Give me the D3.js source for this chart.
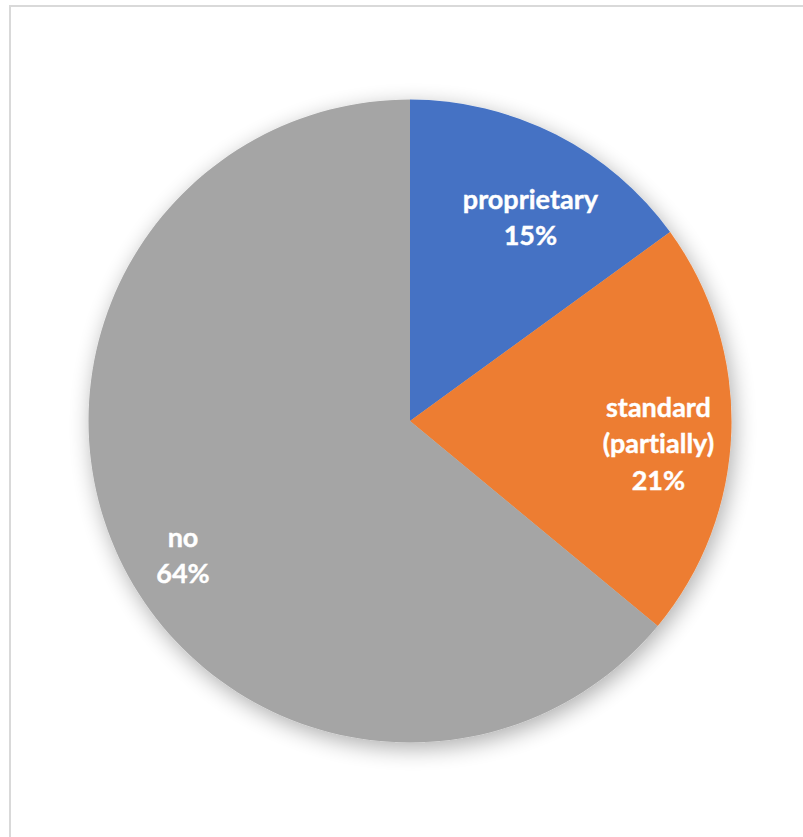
<!DOCTYPE html>
<html>
<head>
<meta charset="utf-8">
<script src="https://cdn.jsdelivr.net/npm/d3@7"></script>
<style>
  html, body { margin: 0; padding: 0; background: #ffffff; }
  svg { display: block; }
  text { font-variant-ligatures: none; font-feature-settings: "liga" 0, "clig" 0; }
</style>
</head>
<body>
<svg id="chart" width="803" height="837"></svg>
<script>
// Share of responses by kind of support
const categories = ["proprietary", "standard (partially)", "no"];
const values = [15, 21, 64];
const labelLines = [["proprietary"], ["standard", "(partially)"], ["no"]];
const colors = ["#4472C4", "#ED7D31", "#A5A5A5"];

// Label placement: radial fraction of the radius and a small nudge per slice
const labelRadiusFactor = 0.77;
const labelNudge = [[8, 17], [1, 15], [-3, 29]];

const width = 803, height = 837;
const cx = 410, cy = 421, radius = 321.5;

const svg = d3.select("#chart");

// Chart area frame
svg.append("rect")
  .attr("x", 10).attr("y", 6)
  .attr("width", width + 20).attr("height", height + 20)
  .attr("fill", "#ffffff")
  .attr("stroke", "#d9d9d9")
  .attr("stroke-width", 2);

// Soft outer shadow under the pie
const defs = svg.append("defs");
const f = defs.append("filter")
  .attr("id", "pieShadow")
  .attr("x", "-20%").attr("y", "-20%")
  .attr("width", "140%").attr("height", "140%");
f.append("feGaussianBlur").attr("in", "SourceAlpha").attr("stdDeviation", 11).attr("result", "blur");
f.append("feOffset").attr("in", "blur").attr("dx", 3).attr("dy", 6).attr("result", "off");
f.append("feComponentTransfer").attr("in", "off").attr("result", "shadow")
  .append("feFuncA").attr("type", "linear").attr("slope", 0.32);
const merge = f.append("feMerge");
merge.append("feMergeNode").attr("in", "shadow");
merge.append("feMergeNode").attr("in", "SourceGraphic");

const pie = d3.pie().sort(null).value(d => d)(values);
const arc = d3.arc().innerRadius(0).outerRadius(radius);
const labelArc = d3.arc()
  .innerRadius(radius * labelRadiusFactor)
  .outerRadius(radius * labelRadiusFactor);

const g = svg.append("g").attr("transform", `translate(${cx},${cy})`);

g.append("g")
  .attr("filter", "url(#pieShadow)")
  .selectAll("path")
  .data(pie)
  .join("path")
  .attr("d", arc)
  .attr("fill", (d, i) => colors[i]);

const fontSize = 27, lineGap = 36.5;

const labels = g.append("g")
  .selectAll("text")
  .data(pie)
  .join("text")
  .attr("transform", (d, i) => {
    const [x, y] = labelArc.centroid(d);
    return `translate(${x + labelNudge[i][0]},${y + labelNudge[i][1]})`;
  })
  .attr("text-anchor", "middle")
  .attr("font-family", "Lato, 'Open Sans', sans-serif")
  .attr("font-weight", "bold")
  .attr("font-size", fontSize)
  .attr("fill", "#ffffff")
  .attr("stroke", "#ffffff")
  .attr("stroke-width", 0.4);

labels.each(function(d, i) {
  const lines = labelLines[i].concat([d3.format(".0f")(d.value) + "%"]);
  const n = lines.length;
  const t = d3.select(this);
  lines.forEach((line, k) => {
    t.append("tspan")
      .attr("x", 0)
      .attr("y", (k - (n - 1) / 2) * lineGap)
      .attr("dy", "0.35em")
      .text(line);
  });
});
</script>
</body>
</html>
